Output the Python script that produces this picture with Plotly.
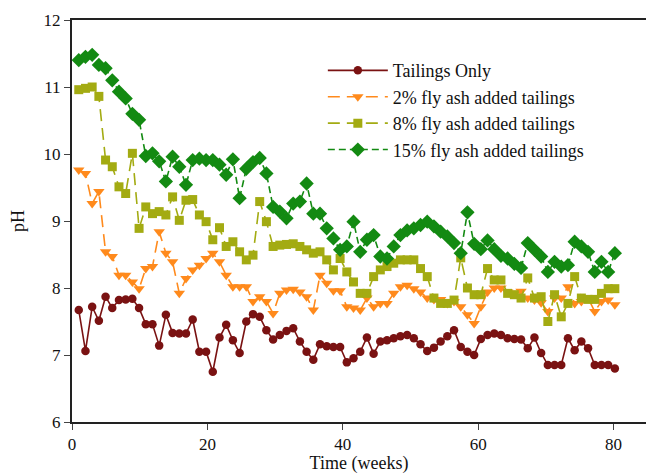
import plotly.graph_objects as go

# Sampling times (weeks): 81 roughly weekly samples from week 1 to ~80
WEEKS = [round(1 + 0.99 * i, 2) for i in range(81)]

TAILINGS = [7.67, 7.06, 7.72, 7.51, 7.87, 7.70, 7.82, 7.83, 7.84, 7.70,
            7.46, 7.46, 7.14, 7.60, 7.33, 7.32, 7.32, 7.53, 7.05, 7.05,
            6.75, 7.26, 7.45, 7.22, 7.03, 7.50, 7.61, 7.57, 7.37, 7.23,
            7.30, 7.36, 7.40, 7.20, 7.05, 6.93, 7.16, 7.13, 7.12, 7.12,
            6.89, 6.95, 7.05, 7.26, 7.02, 7.20, 7.22, 7.25, 7.28, 7.30,
            7.25, 7.16, 7.06, 7.11, 7.20, 7.28, 7.37, 7.12, 7.05, 7.00,
            7.24, 7.30, 7.32, 7.30, 7.25, 7.24, 7.23, 7.10, 7.26, 7.03,
            6.85, 6.85, 6.85, 7.25, 7.07, 7.20, 7.10, 6.85, 6.85, 6.85,
            6.80]

FLYASH_2 = [9.76, 9.71, 9.26, 9.44, 8.54, 8.47, 8.19, 8.19, 8.09, 7.99,
            8.29, 8.32, 8.84, 8.52, 8.39, 7.92, 8.14, 8.27, 8.34, 8.44,
            8.52, 8.39, 8.19, 8.02, 8.02, 8.02, 7.80, 7.87, 7.80, 7.62,
            7.92, 7.97, 7.98, 7.94, 7.87, 7.67, 8.19, 8.07, 7.96, 7.96,
            7.72, 7.70, 7.67, 7.85, 7.72, 7.77, 7.77, 7.92, 8.02, 8.04,
            7.99, 7.94, 7.85, 7.83, 7.83, 7.77, 7.80, 7.72, 7.60, 7.47,
            7.72, 7.94, 8.00, 8.00, 7.94, 7.92, 7.95, 7.85, 7.82, 7.78,
            7.65, 7.85, 7.85, 8.02, 7.77, 7.80, 7.85, 7.65, 7.80, 7.82,
            7.75]

FLYASH_8 = [10.96, 10.98, 11.00, 10.86, 9.91, 9.81, 9.51, 9.41, 10.01, 8.89,
            9.21, 9.11, 9.14, 9.09, 9.36, 9.01, 9.31, 9.32, 9.09, 8.99,
            8.72, 8.90, 8.62, 8.69, 8.54, 8.42, 8.49, 9.29, 8.99, 8.62,
            8.64, 8.65, 8.66, 8.62, 8.57, 8.52, 8.54, 8.42, 8.27, 8.44,
            8.24, 8.09, 7.92, 7.92, 8.17, 8.27, 8.32, 8.37, 8.42, 8.42,
            8.42, 8.29, 8.17, 7.85, 7.77, 7.77, 7.82, 8.45, 8.00, 7.90,
            7.90, 8.29, 8.12, 8.12, 7.92, 7.90, 7.85, 8.15, 7.85, 7.87,
            7.50, 7.90, 7.57, 7.77, 8.17, 7.85, 7.83, 7.83, 7.92, 7.99,
            7.99]

FLYASH_15 = [11.40, 11.45, 11.48, 11.33, 11.28, 11.10, 10.93, 10.83, 10.60, 10.51,
             9.97, 10.01, 9.89, 9.59, 9.96, 9.81, 9.54, 9.91, 9.93, 9.91,
             9.91, 9.84, 9.69, 9.92, 9.34, 9.78, 9.88, 9.94, 9.71, 9.21,
             9.14, 9.04, 9.26, 9.29, 9.56, 9.11, 9.11, 8.89, 8.74, 8.57,
             8.62, 8.99, 8.54, 8.72, 8.79, 8.47, 8.44, 8.62, 8.79, 8.86,
             8.89, 8.94, 8.99, 8.92, 8.84, 8.77, 8.67, 8.52, 9.13, 8.66,
             8.58, 8.71, 8.58, 8.48, 8.44, 8.36, 8.30, 8.67, 8.57, 8.47,
             8.24, 8.39, 8.32, 8.34, 8.69, 8.62, 8.54, 8.24, 8.39, 8.24,
             8.52]

NAMES = ["Tailings Only", "2% fly ash added tailings",
         "8% fly ash added tailings", "15% fly ash added tailings"]
X_TICKS = [0, 20, 40, 60, 80]
Y_TICKS = [6, 7, 8, 9, 10, 11, 12]

FONT = "Liberation Serif, Times New Roman, serif"

series = [
    (TAILINGS, NAMES[0], "#7a1212", "solid", "circle", 8.5),
    (FLYASH_2, NAMES[1], "#ff8a1c", "12px,7px", "triangle-down", 10),
    (FLYASH_8, NAMES[2], "#a3ab12", "12px,7px", "square", 9),
    (FLYASH_15, NAMES[3], "#138a12", "7px,4px", "diamond", 11),
]

fig = go.Figure()
for vals, name, color, dash, sym, size in series:
    fig.add_trace(go.Scatter(
        x=WEEKS, y=vals, name=name, mode="lines+markers",
        line=dict(color=color, width=1.6, dash=dash),
        marker=dict(symbol=sym, size=size, color=color, line=dict(width=0)),
    ))

fig.update_layout(
    width=646, height=474,
    margin=dict(l=72, r=0, t=20, b=52),
    paper_bgcolor="white", plot_bgcolor="white",
    font=dict(family=FONT, size=17, color="#111111"),
    showlegend=True,
    legend=dict(x=0.437, y=0.92, xanchor="left", yanchor="top",
                bgcolor="rgba(0,0,0,0)", font=dict(family=FONT, size=18),
                itemwidth=60, tracegroupgap=0),
)
fig.update_xaxes(
    range=[0, 84.8], tickvals=X_TICKS, ticks="outside", ticklen=6,
    showline=True, linecolor="#222222", linewidth=2, mirror=True,
    showgrid=False, zeroline=False,
    title=dict(text="Time (weeks)", font=dict(family=FONT, size=18), standoff=4),
    tickfont=dict(family=FONT, size=17),
)
fig.update_yaxes(
    range=[6, 12], tickvals=Y_TICKS, ticks="outside", ticklen=6,
    showline=True, linecolor="#222222", linewidth=2,
    showgrid=False, zeroline=False,
    title=dict(text="pH", font=dict(family=FONT, size=18), standoff=14),
    tickfont=dict(family=FONT, size=17),
)

fig.write_html("out.html")
